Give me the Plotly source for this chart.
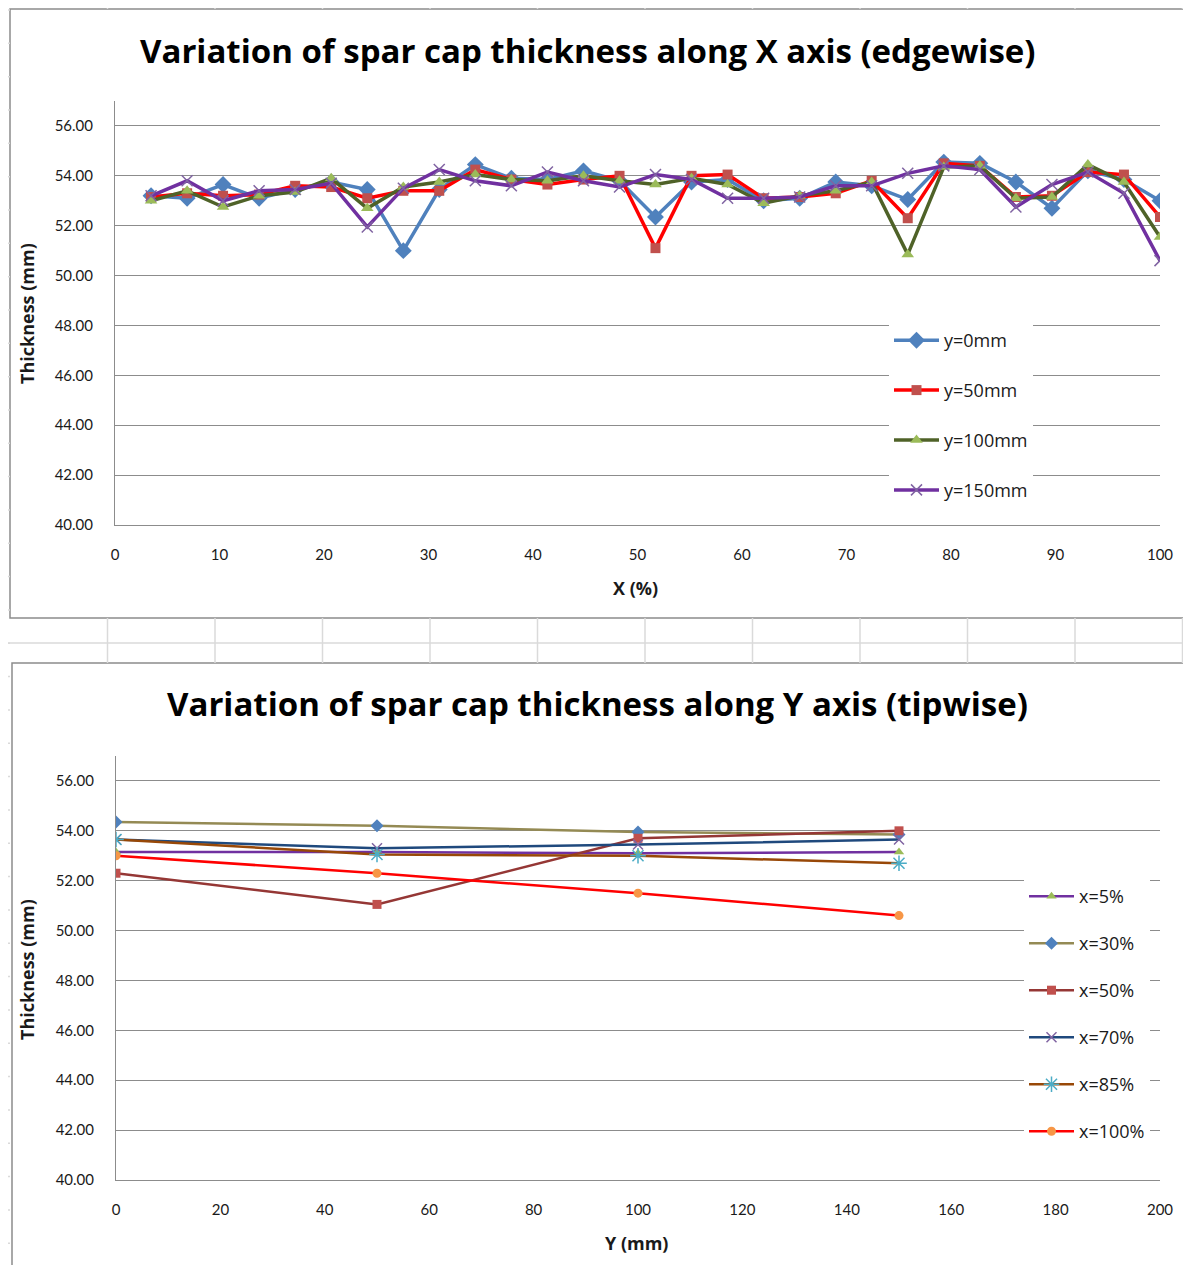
import plotly.graph_objects as go

# the page body has an 8px margin, so the figure is 16px smaller than the window
W, H = 1175, 1257
OFF = 8

# top chart: thickness along X for four y stations
x_pct = [3.45, 6.90, 10.34, 13.79, 17.24, 20.69, 24.14, 27.59, 31.03, 34.48,
         37.93, 41.38, 44.83, 48.28, 51.72, 55.17, 58.62, 62.07, 65.52, 68.97,
         72.41, 75.86, 79.31, 82.76, 86.21, 89.66, 93.10, 96.55, 100.0]
y0mm = [53.2, 53.1, 53.65, 53.1, 53.45, 53.75, 53.45, 51.0, 53.45, 54.45,
        53.9, 53.85, 54.2, 53.8, 52.35, 53.75, 53.85, 53.0, 53.1, 53.75,
        53.6, 53.05, 54.55, 54.5, 53.75, 52.7, 54.2, 53.85, 53.0]
y50mm = [53.15, 53.3, 53.2, 53.25, 53.6, 53.55, 53.1, 53.4, 53.4, 54.25,
         53.85, 53.65, 53.85, 54.0, 51.1, 54.0, 54.05, 53.1, 53.15, 53.3,
         53.8, 52.3, 54.5, 54.4, 53.15, 53.2, 54.15, 54.05, 52.35]
y100mm = [53.0, 53.4, 52.75, 53.2, 53.35, 53.9, 52.7, 53.55, 53.75, 54.05,
          53.85, 53.8, 54.0, 53.8, 53.65, 53.9, 53.65, 52.9, 53.2, 53.4,
          53.75, 50.85, 54.35, 54.4, 53.1, 53.15, 54.45, 53.75, 51.55]
y150mm = [53.2, 53.8, 53.0, 53.4, 53.45, 53.7, 51.95, 53.5, 54.25, 53.8,
          53.6, 54.15, 53.8, 53.55, 54.05, 53.85, 53.1, 53.1, 53.15, 53.6,
          53.6, 54.1, 54.4, 54.25, 52.75, 53.65, 54.15, 53.3, 50.6]

# bottom chart: thickness along Y for six x stations
y_mm = [0, 50, 100, 150]
x5 = [53.15, 53.15, 53.1, 53.15]
x30 = [54.35, 54.2, 53.95, 53.85]
x50 = [52.3, 51.05, 53.7, 54.0]
x70 = [53.65, 53.3, 53.45, 53.65]
x85 = [53.65, 53.05, 53.0, 52.7]
x100 = [53.0, 52.3, 51.5, 50.6]

def pxx(p):
    return (p - OFF) / W

def pxy(p):
    return 1 - (p - OFF) / H

fig = go.Figure()

top = [
    ("y=0mm", y0mm, "#4F81BD", "diamond", "#4F81BD", 13),
    ("y=50mm", y50mm, "#FF0000", "square", "#C0504D", 10),
    ("y=100mm", y100mm, "#4F6228", "triangle-up", "#9BBB59", 11),
    ("y=150mm", y150mm, "#7030A0", "x-thin", "#8064A2", 11),
]
for i, (name, vals, lc, sym, mc, sz) in enumerate(top):
    mk = dict(symbol=sym, color=mc, size=sz)
    if sym == "x-thin":
        mk["line"] = dict(color=mc, width=1.5)
    fig.add_trace(go.Scatter(x=x_pct, y=vals, name=name, mode="lines+markers",
                             line=dict(color=lc, width=3.5), marker=mk,
                             xaxis="x", yaxis="y", legend="legend",
                             legendgroup="t%d" % i))

bottom = [
    ("x=5%", x5, "#7030A0", "triangle-up", "#9BBB59", 9),
    ("x=30%", x30, "#948A54", "diamond", "#4F81BD", 10),
    ("x=50%", x50, "#953735", "square", "#C0504D", 9),
    ("x=70%", x70, "#1F497D", "x-thin", "#8064A2", 10),
    ("x=85%", x85, "#984807", "asterisk", "#4BACC6", 13),
    ("x=100%", x100, "#FF0000", "circle", "#F79646", 9),
]
for i, (name, vals, lc, sym, mc, sz) in enumerate(bottom):
    mk = dict(symbol=sym, color=mc, size=sz)
    if sym in ("x-thin", "asterisk"):
        mk["line"] = dict(color=mc, width=1.5)
    fig.add_trace(go.Scatter(x=y_mm, y=vals, name=name, mode="lines+markers",
                             line=dict(color=lc, width=2.5), marker=mk,
                             xaxis="x2", yaxis="y2", legend="legend2",
                             legendgroup="b%d" % i))

font = "Lato, 'Open Sans', sans-serif"
bold = "'Open Sans', Lato, sans-serif"
yax = dict(range=[40, 57], tickvals=[40, 42, 44, 46, 48, 50, 52, 54, 56],
           tickformat=".2f", showgrid=True, gridcolor="#8C8C8C", gridwidth=1,
           showline=True, linecolor="#8C8C8C", linewidth=1, zeroline=False,
           automargin=False, ticklabeloverflow="allow",
           ticks="", ticklabelstandoff=18, tickfont=dict(size=15, color="#1a1a1a"))
xax = dict(showgrid=False, showline=True, linecolor="#8C8C8C", linewidth=1,
           zeroline=False, automargin=False, ticklabeloverflow="allow",
           ticks="", ticklabelstandoff=16,
           tickfont=dict(size=15, color="#1a1a1a"))

fig.update_layout(
    width=W, height=H, margin=dict(l=0, r=0, t=0, b=0, autoexpand=False),
    paper_bgcolor="white", plot_bgcolor="white", font=dict(family=font),
    xaxis=dict(xax, domain=[pxx(115), pxx(1160)], range=[0, 100], dtick=10, anchor="y"),
    yaxis=dict(yax, domain=[pxy(525), pxy(101)], anchor="x"),
    xaxis2=dict(xax, domain=[pxx(116), pxx(1160)], range=[0, 200], dtick=20, anchor="y2"),
    yaxis2=dict(yax, domain=[pxy(1180), pxy(756)], anchor="x2"),
    legend=dict(x=pxx(889), y=pxy(322), xanchor="left", yanchor="top",
                bgcolor="white", font=dict(size=18, color="#1a1a1a", family=bold),
                tracegroupgap=23.5, itemwidth=45),
    legend2=dict(x=pxx(1024), y=pxy(878), xanchor="left", yanchor="top",
                 bgcolor="white", font=dict(size=18, color="#1a1a1a", family=bold),
                 tracegroupgap=20.6, itemwidth=45),
)

# spreadsheet cell lines behind the charts
shapes = []
cell = "#DADADA"
for k in range(1, 12):
    xc = 107.5 * k
    shapes.append(dict(type="line", xref="paper", yref="paper",
                       x0=pxx(xc), x1=pxx(xc), y0=pxy(0), y1=pxy(9),
                       line=dict(color=cell, width=1.5)))
    shapes.append(dict(type="line", xref="paper", yref="paper",
                       x0=pxx(xc), x1=pxx(xc), y0=pxy(618), y1=pxy(663),
                       line=dict(color=cell, width=1.5)))
shapes.append(dict(type="line", xref="paper", yref="paper",
                   x0=pxx(0), x1=1.02, y0=pxy(643), y1=pxy(643),
                   line=dict(color=cell, width=1.5)))
for k in range(39):
    yc = 10 + 33.33 * k
    shapes.append(dict(type="line", xref="paper", yref="paper",
                       x0=pxx(0), x1=pxx(10), y0=pxy(yc), y1=pxy(yc),
                       line=dict(color=cell, width=1.5)))
# chart frames
shapes.append(dict(type="rect", xref="paper", yref="paper",
                   x0=pxx(10), x1=1.02, y0=pxy(618), y1=pxy(9),
                   line=dict(color="#8C8C8C", width=1.5), layer="below"))
shapes.append(dict(type="rect", xref="paper", yref="paper",
                   x0=pxx(12), x1=1.02, y0=-0.02, y1=pxy(663),
                   line=dict(color="#8C8C8C", width=1.5), layer="below"))
fig.update_layout(shapes=shapes)

ann = []
ann.append(dict(text="<b>Variation of spar cap thickness along X axis (edgewise)</b>",
                x=pxx(588), y=pxy(50), font=dict(size=33, color="#000", family=bold)))
ann.append(dict(text="<b>Variation of spar cap thickness along Y axis (tipwise)</b>",
                x=pxx(598), y=pxy(704), font=dict(size=33, color="#000", family=bold)))
ann.append(dict(text="<b>X (%)</b>", x=pxx(635), y=pxy(588),
                font=dict(size=18, color="#1a1a1a", family=bold)))
ann.append(dict(text="<b>Y (mm)</b>", x=pxx(636), y=pxy(1243),
                font=dict(size=18, color="#1a1a1a", family=bold)))
ann.append(dict(text="<b>Thickness (mm)</b>", x=pxx(27), y=pxy(314), textangle=-90,
                font=dict(size=18, color="#1a1a1a", family=bold)))
ann.append(dict(text="<b>Thickness (mm)</b>", x=pxx(27), y=pxy(970), textangle=-90,
                font=dict(size=18, color="#1a1a1a", family=bold)))
for a in ann:
    a.update(xref="paper", yref="paper", showarrow=False,
             xanchor="center", yanchor="middle")
fig.update_layout(annotations=ann)

fig.write_html("out.html")
